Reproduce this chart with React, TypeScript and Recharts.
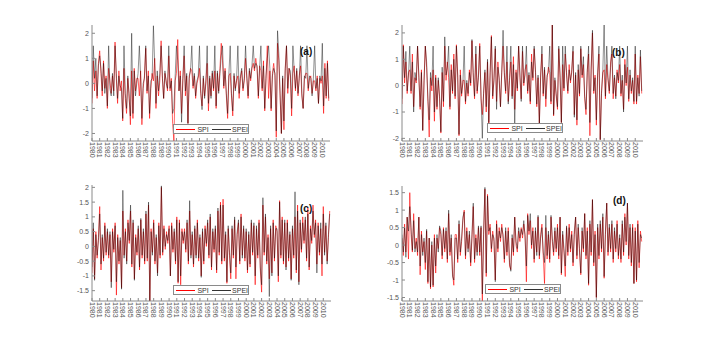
import { Line, LineChart, XAxis, YAxis } from "recharts";

const years = [
  1980, 1981, 1982, 1983, 1984, 1985, 1986, 1987, 1988, 1989, 1990, 1991, 1992, 1993, 1994, 1995,
  1996, 1997, 1998, 1999, 2000, 2001, 2002, 2003, 2004, 2005, 2006, 2007, 2008, 2009, 2010,
];

// six readings a year
const spiA = [
  -0.8, 0.9, -0.3, 0.5, -0.6, 0.8, 1.3, 0.4, -0.5, 0.9, -0.2, 0.3, -1.0, 0.6, 0.1, -0.4, 0.3, -0.3,
  1.65, 0.2, -0.8, 0.5, -0.3, 0.1, -1.5, 0.6, -0.6, -1.2, 0.2, -0.4, -1.65, 0.5, -1.4, 0.6, -0.3, 0.2,
  0.2, -0.5, 0.5, -1.65, -0.2, 0.3, 1.4, -0.4, 0.5, -1.4, -0.2, 0.4, 0.1, 1.0, -1.0, 0.3, -0.5, 0.1,
  1.7, 0.2, -0.6, 0.4, 0.1, -0.3, 1.1, -0.3, 0.2, -1.6, -2.3, 0.1, 0.4, 1.75, -0.3, 0.5, -1.2, 0.2,
  1.1, -0.5, 0.3, -1.6, 0.2, 0.6, 0.5, -0.2, 0.3, -0.6, 0.0, 0.2, 0.6, -0.4, -0.9, 0.2, -0.5, 0.1,
  0.8, -1.1, 0.2, -0.5, 0.4, -0.3, 0.5, -1.0, 0.4, -0.3, 0.6, 1.6, 0.9, -0.2, 0.6, -0.5, -1.4, 0.3,
  0.4, -0.5, -1.3, 0.3, -0.2, 0.1, 0.3, -0.6, 0.2, 0.5, -0.3, 0.1, 1.0, 0.2, -0.6, 0.5, 0.1, 0.6,
  0.8, 0.5, 1.0, 0.6, -0.6, 0.7, 0.5, -0.3, 0.9, -1.1, 0.2, 1.5, -0.6, 0.5, -1.1, 0.4, 0.8, 0.3,
  -2.15, 1.6, 0.9, -0.5, -2.0, 0.2, -1.85, 0.6, 1.5, -0.4, 0.6, 0.3, -1.3, 0.4, 0.7, -0.3, 0.5, -0.5,
  0.3, 0.7, -0.5, -1.0, 0.2, 0.4, 0.4, -0.3, 0.2, 0.3, -0.4, 0.1, 0.1, -0.3, 0.3, -0.8, 0.2, 0.0,
  0.3, -1.2, 0.8, -0.6, 0.9, -0.7,
];
const speiA = [
  -0.6, 1.5, 0.2, 1.0, -0.5, 0.7, 1.1, 0.6, -0.3, 0.8, -0.4, 0.2, -0.9, 1.5, -0.2, -0.5, 0.4, -0.5,
  1.5, 0.4, -0.6, 0.3, -0.1, -0.2, -1.4, 1.5, -0.4, -1.0, 0.3, -0.6, -1.3, 2.0, -1.2, 0.5, -0.5, 0.0,
  0.4, 1.5, 0.3, -1.4, 0.0, 0.2, 1.5, -0.3, 0.3, -1.2, 0.1, 0.2, 2.3, 0.8, -0.8, 0.5, -0.3, 0.4,
  1.5, 0.3, -0.6, 0.5, 0.0, -0.2, 1.5, -0.2, 0.1, -1.2, -1.0, 0.3, 1.5, 0.9, -0.3, 0.3, -1.55, 0.1,
  1.5, -0.3, 0.4, -1.6, 0.3, 0.5, 1.5, -0.1, 0.4, -0.5, 0.1, 0.3, 1.5, -0.3, -1.05, 0.3, -0.6, 0.0,
  1.5, -0.8, 0.3, -0.6, 0.5, -0.2, 1.5, -0.9, 0.5, -0.4, 0.4, 1.1, 1.5, -0.1, 0.5, -0.4, -1.2, 0.4,
  1.5, -0.4, -1.1, 0.4, -0.3, 0.2, 1.5, -0.4, 0.3, 0.6, -0.2, 0.2, 1.5, 0.3, -0.5, 0.6, 0.2, 0.7,
  1.5, 0.6, 0.8, 0.7, -0.5, 0.6, 1.5, -0.2, 0.7, -1.0, 0.3, 1.0, 1.5, 0.6, -1.0, 0.3, 0.6, 0.4,
  -1.9, 2.1, 1.2, -0.4, -2.0, 0.3, -1.5, 0.5, 1.5, -0.2, 0.6, 0.5, -1.0, 1.5, 0.5, -0.2, 0.6, -0.4,
  0.2, 1.5, -0.4, -1.0, 0.3, 0.2, 1.5, -0.2, 0.3, 0.2, -0.5, 0.2, 1.5, -0.2, 0.2, -0.8, 0.3, 0.1,
  1.6, -0.9, 0.6, -0.5, 0.8, -0.6,
];

const spiB = [
  -0.7, 1.55, 0.1, 0.9, -0.3, 0.5, 0.6, -0.3, 1.2, -0.8, 0.3, 0.1, 1.5, 0.3, -0.9, 0.6, -1.7, 0.2,
  1.5, 0.7, -0.6, -1.95, 0.3, -0.2, 0.6, -1.35, 0.4, -0.9, 0.2, -0.5, -1.8, 0.5, -0.8, 1.5, 0.2, 0.9,
  0.3, -0.9, 0.8, -0.3, 1.2, -0.5, 1.55, 0.4, -1.9, 0.6, -0.4, 0.2, 0.2, -0.7, 0.1, -0.4, 0.6, 0.0,
  1.7, 0.3, -0.5, 1.2, -0.3, 0.4, 1.6, -0.5, -1.1, -0.3, 0.5, -1.0, 0.9, -1.5, 0.5, 1.9, -0.5, 0.3,
  1.4, -0.6, 0.9, 0.2, -0.8, 0.5, 1.5, 0.5, -0.3, 0.9, -0.6, 0.2, 0.9, -0.4, 1.1, -0.9, 0.6, -0.2,
  1.5, 0.3, -0.5, 1.3, 0.0, 0.6, 0.8, -0.3, 0.4, -0.7, 1.2, 0.2, 1.4, 0.5, -0.8, 0.3, -1.45, 0.4,
  1.2, -0.4, 0.6, -0.8, 0.3, 0.7, 0.5, -0.7, 2.3, -1.15, 0.2, -0.4, -0.9, 1.4, 0.3, -1.4, 0.8, -0.2,
  1.2, 0.5, -0.3, 0.8, 0.1, 0.6, 1.3, -1.1, 0.4, -1.5, 0.6, -0.4, 1.4, 0.3, 0.8, -0.5, -1.1, 0.6,
  1.2, -1.9, 0.6, 2.0, -0.3, 0.4, -1.5, 0.4, 1.2, -2.05, -0.2, 0.5, 0.6, -0.5, 0.8, 0.2, -0.3, 0.9,
  1.2, -0.5, 0.3, -0.4, 0.6, 0.1, 0.8, -0.4, 0.2, -0.9, 1.0, 0.0, 0.7, -0.6, 0.4, -0.3, 0.2, -0.7,
  1.2, -0.7, 0.4, -0.3, 1.1, -0.3,
];
const speiB = [
  -0.5, 1.5, 0.3, 1.3, -0.2, 0.4, 1.5, -0.2, 0.9, -1.0, 0.5, 0.2, 1.5, 0.4, -0.8, 0.5, -1.7, 0.1,
  1.5, 0.9, -0.5, -1.3, 0.5, 0.0, 1.5, -1.0, 0.3, -0.8, 0.3, -0.4, -1.75, 0.7, -0.6, 1.85, 0.4, 0.7,
  1.5, -0.8, 0.6, -0.2, 1.0, -0.4, 1.5, 0.3, -1.85, 0.4, -0.3, 0.1, 1.5, -0.6, 0.2, -0.3, 0.5, 0.1,
  1.75, 0.5, -0.4, 1.5, -0.2, 0.3, 1.5, -0.4, -2.0, -0.2, 0.6, -0.8, 1.0, -1.4, 0.4, 1.85, -0.4, 0.2,
  1.5, -0.9, 0.7, 0.3, -0.8, 0.6, 2.1, 0.4, -0.2, 1.5, -0.7, 0.3, 1.5, -0.5, 0.8, -1.45, 0.5, -0.1,
  1.5, 0.5, -0.6, 1.5, 0.1, 0.4, 1.5, -0.2, 0.5, -0.6, 0.9, 0.3, 1.5, 0.6, -0.7, 0.4, -1.45, 0.3,
  1.5, -0.3, 0.7, -0.5, 0.4, 0.5, 1.5, -0.6, 2.3, -1.1, 0.3, -0.3, -0.8, 1.5, 0.4, -1.4, 1.5, -0.1,
  1.5, 0.4, -0.2, 0.6, 0.2, 0.5, 1.5, -1.2, 0.5, -1.3, 0.8, -0.3, 1.5, 0.4, 1.1, -0.4, -0.9, 0.5,
  1.5, -1.4, 0.7, 2.1, -0.2, 0.3, -1.3, 0.5, 1.5, -2.05, -0.3, 0.6, 2.3, -0.4, 1.5, 0.3, -0.2, 0.7,
  1.5, -0.3, 0.4, -0.5, 0.5, 0.2, 1.5, -0.3, 0.4, -1.0, 0.8, 0.1, 1.5, -0.5, 0.6, -0.2, 0.3, -0.6,
  1.5, -0.6, 0.3, -0.4, 1.35, -0.2,
];

const spiC = [
  -0.9, 0.6, -1.1, 0.5, -0.4, 0.3, 1.35, -0.8, 0.3, -0.5, 0.8, -0.3, 0.5, -0.4, 0.4, -1.2, 0.6, -0.2,
  0.8, -1.65, 0.4, -0.6, 0.2, -1.4, 1.2, -0.3, 0.6, -0.5, 0.9, 0.1, 1.2, -0.7, 0.8, -1.1, 0.4, -0.3,
  0.6, -0.8, 0.9, -0.4, 0.5, -0.6, 1.1, -0.5, 1.4, -1.85, 0.6, -0.2, 0.9, -0.6, 0.3, -0.9, 0.8, -0.4,
  2.0, -0.3, 0.7, -0.1, 0.5, 0.1, 0.7, -1.0, 0.8, -0.2, 0.5, -0.6, 1.0, -1.25, 0.9, -1.3, 0.6, 0.1,
  0.6, -0.2, 0.8, -0.6, 1.2, -0.3, 0.4, -0.7, 0.6, -0.3, 0.9, -0.5, 0.3, -1.0, 0.5, -0.6, 0.7, 0.0,
  0.8, -0.4, 1.0, -0.8, 0.5, -0.2, 0.6, -0.9, 1.2, -0.3, 1.5, -0.6, 1.6, -0.5, 0.4, -1.25, 0.6, -0.3,
  -1.1, 0.6, -0.4, 0.9, -1.1, 0.4, 0.8, -0.6, 1.1, -0.3, 0.6, -0.5, 0.5, -0.9, 0.4, -0.7, 0.8, -0.3,
  0.7, -1.3, 0.6, -0.4, 0.9, -0.8, -1.55, 1.4, -0.3, 1.0, -0.6, 0.4, -1.1, 0.6, -0.9, 0.9, -0.5, 0.7,
  0.5, -1.2, 1.55, -0.4, 1.0, -0.6, 0.8, -0.7, 0.9, -0.5, 0.4, -1.1, 0.6, -0.4, 1.0, -0.9, 1.4, -1.2,
  0.8, -0.2, 1.0, 0.1, 0.9, -0.5, 1.3, -0.8, 0.7, 0.1, 1.4, 0.3, 0.9, -0.6, 0.8, -0.3, 0.6, -1.0,
  1.35, -0.2, 0.7, -0.5, 0.3, 1.2,
];
const speiC = [
  -0.7, 0.8, -1.15, 0.4, -0.3, 0.2, 1.1, -0.6, 0.4, -0.4, 0.7, -0.2, 0.6, -0.3, 0.5, -1.4, 0.5, -0.1,
  0.7, -1.2, 0.3, -0.5, 0.3, -1.45, 1.9, -0.4, 0.5, -0.6, 0.8, 0.2, 1.4, -0.6, 0.9, -1.15, 0.3, -0.2,
  0.7, -0.7, 0.95, -0.3, 0.6, -0.5, 1.2, -0.4, 1.5, -1.85, 0.5, -0.3, 0.8, -0.5, 0.4, -1.0, 0.7, -0.3,
  2.05, -0.2, 0.6, 0.0, 0.4, 0.2, 0.6, -1.0, 0.7, -0.1, 0.6, -0.5, 0.9, -1.2, 0.8, -1.0, 0.5, 0.2,
  0.5, -0.1, 0.9, -0.5, 1.55, -0.4, 0.5, -0.6, 0.7, -0.4, 0.8, -0.4, 0.4, -1.05, 0.6, -0.5, 0.6, 0.1,
  0.9, -0.3, 1.1, -0.7, 0.6, -0.1, 0.7, -0.8, 1.3, -0.2, 1.4, -0.5, 1.4, -0.4, 0.5, -1.2, 0.7, -0.2,
  -0.9, 0.7, -0.3, 1.0, -0.7, 0.5, 0.9, -0.5, 1.0, -0.4, 0.7, -0.4, 0.6, -0.8, 0.5, -0.6, 0.9, -0.2,
  0.8, -1.0, 0.7, -0.3, 0.8, -0.7, -1.3, 1.65, -0.2, 1.1, -0.5, 0.3, -1.7, 0.7, -1.0, 0.8, -0.4, 0.6,
  0.6, -1.0, 1.5, -0.3, 0.9, -0.5, 0.9, -0.8, 0.8, -0.4, 0.5, -1.15, 0.7, -0.3, 1.85, -0.8, 1.2, -1.3,
  0.9, -0.1, 0.8, 0.2, 1.0, -0.4, 1.1, -0.7, 0.6, 0.2, 1.2, 0.4, 0.8, -0.9, 0.7, -0.2, 0.8, -0.6,
  1.1, -0.3, 0.8, -0.6, 0.4, 1.1,
];

const spiD = [
  0.2, -0.3, 0.6, -0.2, 0.8, -0.4, 1.5, 0.3, -0.2, 0.9, -0.1, 0.2, -0.3, 0.8, -0.85, 0.4, -0.2, 0.1,
  -0.7, 0.4, -1.1, 0.2, -1.25, 0.0, -1.2, 0.3, -0.8, 0.2, -0.1, 0.5, 0.3, -0.4, 0.5, -0.2, 0.4, -0.5,
  0.9, -0.3, 0.2, -0.8, -1.15, 0.3, 0.3, -0.5, 0.6, -0.3, 0.1, 0.7, 1.0, -0.4, 0.5, -0.1, 0.3, -0.6,
  0.2, 1.1, -0.5, 0.3, -0.2, 0.5, -0.3, 0.5, -1.6, 0.3, 1.6, -0.9, 1.45, 0.3, 0.6, -0.2, 0.4, 0.1,
  -1.0, 0.7, -0.2, 0.5, 0.1, 0.6, 0.2, -0.5, 0.4, -0.3, 0.5, -0.6, -0.7, 0.2, -0.3, 0.8, 0.0, -0.2,
  0.4, 0.1, 0.5, 0.2, 0.6, 0.3, -1.05, 0.9, 0.3, 0.7, -0.1, 0.5, -0.5, 0.4, -0.2, 0.8, -0.4, 0.3,
  0.6, -0.3, -1.1, 0.5, -0.4, 0.3, -0.5, 0.8, 0.1, -0.3, 0.4, -0.2, 0.6, -0.4, 0.8, -0.85, 0.3, -0.2,
  -0.9, 0.5, -0.3, 0.6, -0.2, 0.4, -0.6, 0.3, 0.8, -0.4, 0.5, -0.2, -0.85, 0.4, -0.2, 0.9, -0.4, 0.5,
  -1.15, 0.6, -0.3, 1.3, -0.6, 0.4, -1.5, 0.5, -0.4, 0.6, -0.2, 0.8, -0.95, 0.3, 1.2, -0.3, 0.5, -0.2,
  0.6, -0.5, 0.4, -0.2, 0.7, -0.4, 0.2, -0.5, 0.6, -0.3, 0.9, 0.0, 1.2, -0.4, 0.5, -0.6, 0.6, -1.1,
  0.5, -1.05, 0.7, -0.65, 0.4, 0.1,
];
const speiD = [
  0.3, -0.2, 0.5, -0.35, 0.8, 0.4, 1.1, 0.5, -0.15, 0.7, -0.2, 0.1, -0.2, 0.8, -0.6, 0.3, -0.3, 0.2,
  -0.5, 0.45, -1.05, 0.2, -1.2, 0.1, -1.15, 0.2, -0.6, 0.3, -0.2, 0.55, 0.4, -0.3, 0.45, -0.1, 0.5, -0.4,
  1.0, -0.2, 0.3, -0.9, -1.0, 0.2, 0.2, -0.4, 0.7, -0.2, 0.2, 0.8, 0.95, -0.3, 0.4, -0.2, 0.4, -0.5,
  0.3, 1.2, -0.4, 0.2, -0.3, 0.55, -0.2, 0.55, -1.4, 0.4, 1.65, -0.8, 1.4, 0.4, 0.5, -0.1, 0.3, 0.2,
  -1.05, 0.6, -0.1, 0.4, 0.2, 0.5, 0.3, -0.4, 0.5, -0.2, 0.4, -0.5, -0.75, 0.3, -0.2, 0.8, 0.1, -0.1,
  0.5, 0.2, 0.45, 0.3, 0.7, 0.2, -0.6, 0.85, 0.4, 0.9, 0.0, 0.4, -0.4, 0.5, -0.3, 0.85, -0.3, 0.2,
  0.5, -0.2, -0.5, 0.85, -0.3, 0.4, -0.4, 0.85, 0.2, -0.2, 0.5, -0.1, 0.5, -0.3, 0.8, -0.8, 0.4, -0.1,
  -0.6, 0.55, -0.2, 0.5, -0.1, 0.3, -0.5, 0.4, 0.8, -0.3, 0.6, -0.1, -0.8, 0.5, -0.1, 0.9, -0.3, 0.4,
  -1.1, 0.7, -0.2, 1.3, -0.5, 0.3, -1.5, 0.6, -0.3, 0.7, -0.1, 0.9, -0.9, 0.4, 1.2, -0.2, 0.6, -0.1,
  0.7, -0.4, 0.5, -0.1, 0.6, -0.3, 0.3, -0.4, 0.7, -0.2, 0.8, 0.1, 1.2, -0.3, 0.6, -0.5, 0.5, -1.1,
  0.4, -1.0, 0.6, -0.5, 0.3, 0.2,
];

const ticksAB = [-2, -1, 0, 1, 2];
const ticksC = [-1.5, -1, -0.5, 0, 0.5, 1, 1.5, 2];
const ticksD = [-1.5, -1, -0.5, 0, 0.5, 1, 1.5];

const FONT = '"Liberation Sans", Arial, sans-serif';
const AXIS = "#8a8a8a";
const TXT = "#555";

function build(spi: number[], spei: number[]) {
  return spi.map((v, i) => ({
    t: years[Math.floor(i / 6)] + (i % 6) / 6,
    spi: v,
    spei: spei[i],
  }));
}

const YearTick = (props: any) => {
  const { x, y, payload } = props;
  return (
    <text
      x={x}
      y={y}
      transform={`rotate(90 ${x} ${y})`}
      textAnchor="start"
      dominantBaseline="central"
      fontSize={7}
      fontFamily={FONT}
      fill={TXT}
    >
      {payload.value}
    </text>
  );
};

type PanelProps = {
  spi: number[];
  spei: number[];
  ticks: number[];
  domain: [number, number];
  box: { l: number; r: number; t: number; b: number };
  label: string;
  labelPos: { x: number; y: number };
  legendPos: { x: number; y: number };
};

function Panel({ spi, spei, ticks, domain, box, label, labelPos, legendPos }: PanelProps) {
  const data = build(spi, spei);
  const left = box.l - 92;
  const top = box.t - 25;
  const width = box.r - box.l + 92 + 26;
  const height = box.b - box.t + 25 + 29;
  return (
    <>
      <div style={{ position: "absolute", left, top }}>
        <LineChart
          width={width}
          height={height}
          data={data}
          margin={{ top: 25, right: 26, left: 64, bottom: 4 }}
        >
          <XAxis
            dataKey="t"
            type="number"
            domain={[1980, 2011]}
            ticks={years}
            interval={0}
            height={25}
            tickSize={-3}
            tickMargin={4}
            tick={<YearTick />}
            stroke={AXIS}
            allowDataOverflow
          />
          <XAxis
            xAxisId="top"
            orientation="top"
            dataKey="t"
            type="number"
            domain={[1980, 2011]}
            height={0}
            tick={false}
            tickLine={false}
            stroke={AXIS}
          />
          <YAxis
            type="number"
            domain={domain}
            ticks={ticks}
            interval={0}
            width={28}
            tickSize={-3}
            tickMargin={6}
            tick={{ fontSize: 7, fill: TXT, fontFamily: FONT }}
            stroke={AXIS}
            allowDataOverflow
          />
          <YAxis
            yAxisId="right"
            orientation="right"
            domain={domain}
            width={0}
            tick={false}
            tickLine={false}
            stroke={AXIS}
          />
          <Line
            dataKey="spi"
            stroke="#ff0000"
            strokeWidth={0.6}
            dot={false}
            isAnimationActive={false}
          />
          <Line
            dataKey="spei"
            stroke="#000000"
            strokeWidth={0.5}
            strokeOpacity={0.85}
            dot={false}
            isAnimationActive={false}
          />
        </LineChart>
      </div>
      <div
        style={{
          position: "absolute",
          left: labelPos.x,
          top: labelPos.y,
          fontFamily: FONT,
          fontSize: 10,
          fontWeight: "bold",
          color: "#111",
          lineHeight: "10px",
        }}
      >
        {label}
      </div>
      <div
        style={{
          position: "absolute",
          left: legendPos.x,
          top: legendPos.y,
          width: 76,
          height: 10,
          border: `1px solid ${AXIS}`,
          background: "#fff",
          boxSizing: "border-box",
          display: "flex",
          alignItems: "center",
          fontFamily: FONT,
          fontSize: 7,
          color: "#333",
        }}
      >
        <span style={{ display: "inline-block", width: 22, height: 1, background: "#ff0000", marginLeft: 2 }} />
        <span style={{ marginLeft: 2 }}>SPI</span>
        <span style={{ display: "inline-block", width: 22, height: 1, background: "#333", marginLeft: 3 }} />
        <span style={{ marginLeft: 1 }}>SPEI</span>
      </div>
    </>
  );
}

export default function App() {
  return (
    <div
      style={{
        position: "absolute",
        left: 0,
        top: 0,
        width: 712,
        height: 339,
        background: "#fff",
        overflow: "hidden",
      }}
    >
      <Panel
        spi={spiA}
        spei={speiA}
        ticks={ticksAB}
        domain={[-2.3, 2.33]}
        box={{ l: 92, r: 330, t: 25, b: 141 }}
        label="(a)"
        labelPos={{ x: 300, y: 47 }}
        legendPos={{ x: 173, y: 124 }}
      />
      <Panel
        spi={spiB}
        spei={speiB}
        ticks={ticksAB}
        domain={[-2.1, 2.3]}
        box={{ l: 402, r: 643, t: 25, b: 141 }}
        label="(b)"
        labelPos={{ x: 612, y: 48 }}
        legendPos={{ x: 487, y: 123 }}
      />
      <Panel
        spi={spiC}
        spei={speiC}
        ticks={ticksC}
        domain={[-1.85, 2.08]}
        box={{ l: 92, r: 331, t: 185, b: 301 }}
        label="(c)"
        labelPos={{ x: 300, y: 204 }}
        legendPos={{ x: 173, y: 285 }}
      />
      <Panel
        spi={spiD}
        spei={speiD}
        ticks={ticksD}
        domain={[-1.6, 1.69]}
        box={{ l: 402, r: 643, t: 186, b: 301 }}
        label="(d)"
        labelPos={{ x: 613, y: 196 }}
        legendPos={{ x: 485, y: 284 }}
      />
    </div>
  );
}
